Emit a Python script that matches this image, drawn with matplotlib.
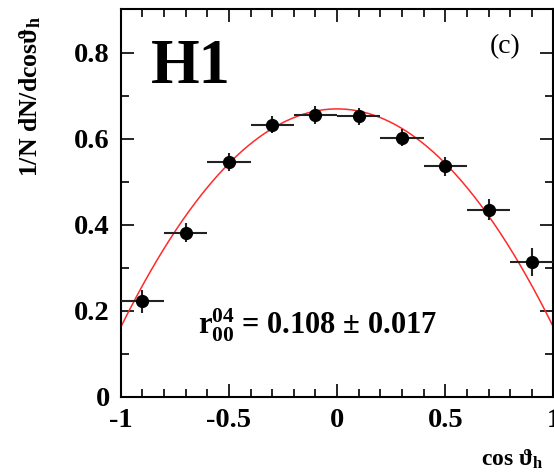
import numpy as np
import matplotlib
matplotlib.use("Agg")
import matplotlib.pyplot as plt
from matplotlib.ticker import MultipleLocator

plt.rcParams["font.family"] = ["Liberation Serif", "DejaVu Serif"]
plt.rcParams["font.weight"] = "bold"
plt.rcParams["mathtext.fontset"] = "custom"
plt.rcParams["mathtext.rm"] = "Liberation Serif:bold"
plt.rcParams["mathtext.bf"] = "Liberation Serif:bold"
plt.rcParams["mathtext.it"] = "Liberation Serif:bold"

# measured distribution, bins of width 0.2 in cos theta_h
cos_bins = [-0.9, -0.7, -0.5, -0.3, -0.1, 0.1, 0.3, 0.5, 0.7, 0.9]
dist = [0.222, 0.381, 0.545, 0.632, 0.655, 0.652, 0.602, 0.536, 0.435, 0.313]
dist_err = [0.027, 0.022, 0.021, 0.020, 0.020, 0.020, 0.020, 0.022, 0.025, 0.033]
half_bin = 0.1
r0004 = 0.108

fig = plt.figure(figsize=(5.54, 4.73), dpi=100)
ax = fig.add_axes([0.218, 0.161, 0.781, 0.819])

# fit: 3/4 [1 - r + (3r - 1) cos^2]
xs = np.linspace(-1, 1, 400)
ax.plot(xs, 0.75 * (1 - r0004 + (3 * r0004 - 1) * xs**2), color="#ff2a2a", lw=1.1, zorder=2)

ax.errorbar(cos_bins, dist, xerr=half_bin, yerr=dist_err, fmt="o", color="black",
            ecolor="#222222", elinewidth=1.5, ms=8.5, capsize=0, zorder=3)

ax.set_xlim(-1, 1)
ax.set_ylim(0, 0.9)
ax.set_xticks([-1, -0.5, 0, 0.5, 1])
ax.set_xticklabels(["-1", "-0.5", "0", "0.5", "1"])
ax.set_yticks([0, 0.2, 0.4, 0.6, 0.8])
ax.set_yticklabels(["0", "0.2", "0.4", "0.6", "0.8"])
ax.xaxis.set_minor_locator(MultipleLocator(0.1))
ax.yaxis.set_minor_locator(MultipleLocator(0.1))
ax.tick_params(which="both", direction="in", top=True, right=True, width=1.2,
               labelsize=20.5, pad=8)
ax.tick_params(which="major", length=9.5)
ax.tick_params(which="minor", length=5.5)
for sp in ax.spines.values():
    sp.set_linewidth(1.5)

ax.text(0.069, 0.81, "H1", transform=ax.transAxes, fontsize=45, fontweight="bold",
        va="baseline", ha="left")
ax.text(0.889, 0.904, "(c)", transform=ax.transAxes, fontsize=20, fontweight="normal",
        va="center", ha="center")
ax.text(0.179, 0.16, r"r$_{\mathbf{00}}^{\mathbf{04}}$ = 0.108 ± 0.017", transform=ax.transAxes,
        fontsize=22, fontweight="bold", va="baseline", ha="left")

fig.text(0.055, 0.795, r"1/N dN/dcos$\vartheta_{\mathbf{h}}$", rotation=90, fontsize=18.5,
         fontweight="bold", ha="center", va="center")
fig.text(481 / 554, 1 - 466 / 473, r"cos $\vartheta_{\mathbf{h}}$", fontsize=17,
         fontweight="bold", ha="left", va="baseline")

fig.savefig("out.png", dpi=100)
